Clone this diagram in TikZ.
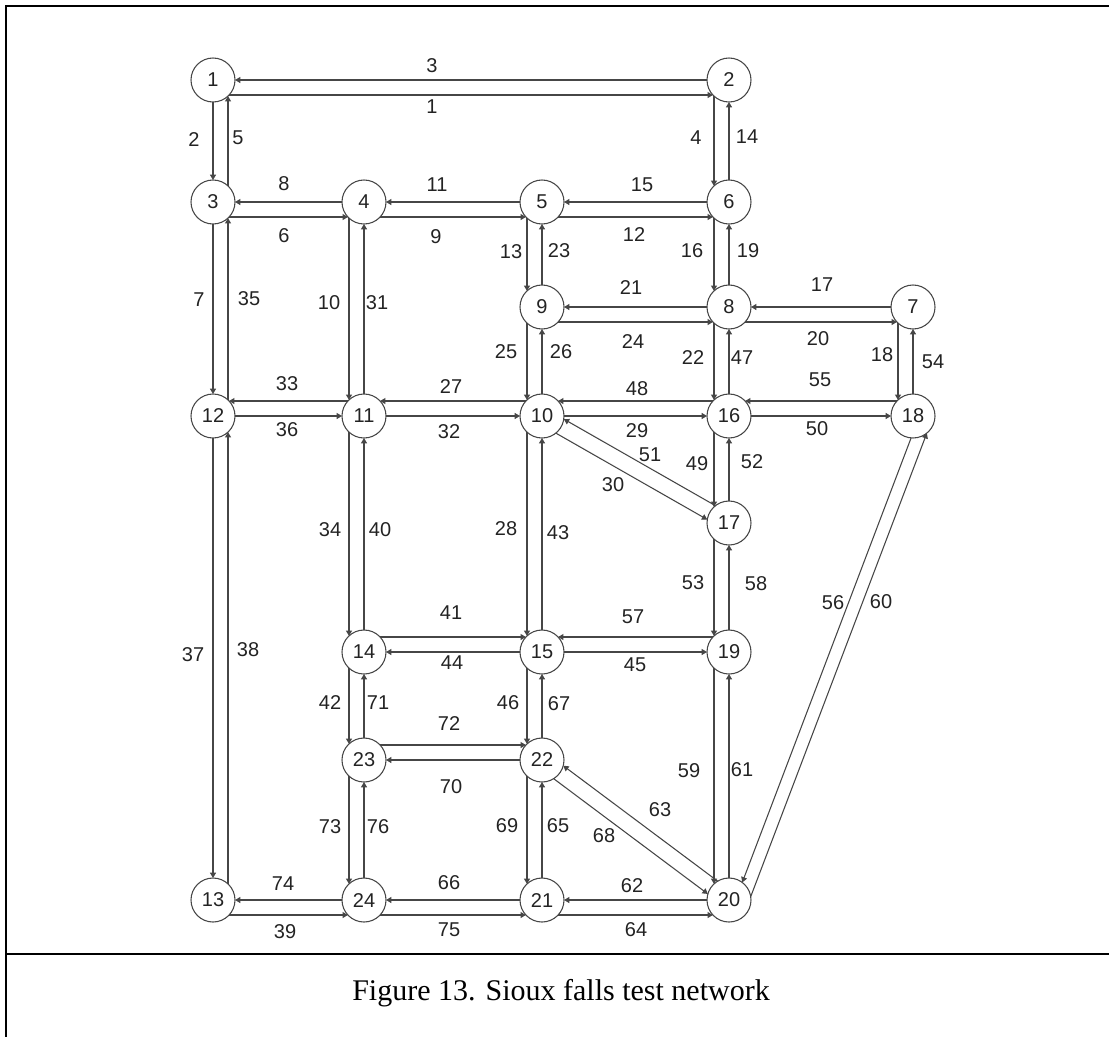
\documentclass[tikz,border=0pt]{standalone}
\usepackage{fontspec}
\setmainfont{Liberation Sans}
\newfontfamily\capfont{Liberation Serif}
\usetikzlibrary{arrows.meta}
\definecolor{linkc}{RGB}{70,70,70}
\definecolor{txtc}{RGB}{35,35,35}
\begin{document}
\begin{tikzpicture}[x=0.75pt,y=-0.75pt,
  nd/.style={circle,draw=linkc,line width=0.8pt,minimum size=33pt,inner sep=0pt,outer sep=0pt,
    font=\fontsize{15}{18}\selectfont,text=txtc},
  lk/.style={draw=linkc,line width=0.8pt,-{Triangle[length=4pt,width=4.5pt]}},
  lb/.style={font=\fontsize{15}{18}\selectfont,text=txtc,inner sep=0pt},
  frameline/.style={line width=1.6pt,black}]
\useasboundingbox (0,0) rectangle (1109,1036);
% frame and caption divider
\draw[frameline] (6,1040) -- (6,6) -- (1112,6);
\draw[frameline] (6,954) -- (1112,954);
\node[font=\capfont\fontsize{22.5}{27}\selectfont,anchor=base,inner sep=0pt] (cap) at (561,1000) {Figure 13. Sioux falls test network};
% nodes
\node[nd] (n1) at (213,80) {1};
\node[nd] (n2) at (729,80) {2};
\node[nd] (n3) at (213,202) {3};
\node[nd] (n4) at (364,202) {4};
\node[nd] (n5) at (542,202) {5};
\node[nd] (n6) at (729,202) {6};
\node[nd] (n7) at (913,307) {7};
\node[nd] (n8) at (729,307) {8};
\node[nd] (n9) at (542,307) {9};
\node[nd] (n10) at (542,416) {10};
\node[nd] (n11) at (364,416) {11};
\node[nd] (n12) at (213,416) {12};
\node[nd] (n13) at (213,900) {13};
\node[nd] (n14) at (364,652) {14};
\node[nd] (n15) at (542,652) {15};
\node[nd] (n16) at (729,416) {16};
\node[nd] (n17) at (729,523) {17};
\node[nd] (n18) at (913,416) {18};
\node[nd] (n19) at (729,652) {19};
\node[nd] (n20) at (729,900) {20};
\node[nd] (n21) at (542,900) {21};
\node[nd] (n22) at (542,760) {22};
\node[nd] (n23) at (364,760) {23};
\node[nd] (n24) at (364,900) {24};
% horizontal links, rows with centre + lower line
\draw[lk] (n2) -- (n1);            \draw[lk] (n1.-43) -- (n2.-137);
\draw[lk] (n4) -- (n3);            \draw[lk] (n3.-43) -- (n4.-137);
\draw[lk] (n5) -- (n4);            \draw[lk] (n4.-43) -- (n5.-137);
\draw[lk] (n6) -- (n5);            \draw[lk] (n5.-43) -- (n6.-137);
\draw[lk] (n8) -- (n9);            \draw[lk] (n9.-43) -- (n8.-137);
\draw[lk] (n7) -- (n8);            \draw[lk] (n8.-43) -- (n7.-137);
\draw[lk] (n24) -- (n13);          \draw[lk] (n13.-43) -- (n24.-137);
\draw[lk] (n21) -- (n24);          \draw[lk] (n24.-43) -- (n21.-137);
\draw[lk] (n20) -- (n21);          \draw[lk] (n21.-43) -- (n20.-137);
% horizontal links, rows with upper + centre line
\draw[lk] (n11.137) -- (n12.43);   \draw[lk] (n12) -- (n11);
\draw[lk] (n10.137) -- (n11.43);   \draw[lk] (n11) -- (n10);
\draw[lk] (n16.137) -- (n10.43);   \draw[lk] (n10) -- (n16);
\draw[lk] (n18.137) -- (n16.43);   \draw[lk] (n16) -- (n18);
\draw[lk] (n14.43) -- (n15.137);   \draw[lk] (n15) -- (n14);
\draw[lk] (n19.137) -- (n15.43);   \draw[lk] (n15) -- (n19);
\draw[lk] (n23.43) -- (n22.137);   \draw[lk] (n22) -- (n23);
% vertical links, first column (centre + right)
\draw[lk] (n1) -- (n3);            \draw[lk] (n3.47) -- (n1.-47);
\draw[lk] (n3) -- (n12);           \draw[lk] (n12.47) -- (n3.-47);
\draw[lk] (n12) -- (n13);          \draw[lk] (n13.47) -- (n12.-47);
% vertical links, other columns (left + centre)
\draw[lk] (n4.-133) -- (n11.133);  \draw[lk] (n11) -- (n4);
\draw[lk] (n11.-133) -- (n14.133); \draw[lk] (n14) -- (n11);
\draw[lk] (n14.-133) -- (n23.133); \draw[lk] (n23) -- (n14);
\draw[lk] (n23.-133) -- (n24.133); \draw[lk] (n24) -- (n23);
\draw[lk] (n5.-133) -- (n9.133);   \draw[lk] (n9) -- (n5);
\draw[lk] (n9.-133) -- (n10.133);  \draw[lk] (n10) -- (n9);
\draw[lk] (n10.-133) -- (n15.133); \draw[lk] (n15) -- (n10);
\draw[lk] (n15.-133) -- (n22.133); \draw[lk] (n22) -- (n15);
\draw[lk] (n22.-133) -- (n21.133); \draw[lk] (n21) -- (n22);
\draw[lk] (n2.-133) -- (n6.133);   \draw[lk] (n6) -- (n2);
\draw[lk] (n6.-133) -- (n8.133);   \draw[lk] (n8) -- (n6);
\draw[lk] (n8.-133) -- (n16.133);  \draw[lk] (n16) -- (n8);
\draw[lk] (n16.-133) -- (n17.133); \draw[lk] (n17) -- (n16);
\draw[lk] (n17.-133) -- (n19.133); \draw[lk] (n19) -- (n17);
\draw[lk] (n19.-133) -- (n20.133); \draw[lk] (n20) -- (n19);
\draw[lk] (n7.-133) -- (n18.133);  \draw[lk] (n18) -- (n7);
% diagonal links
\draw[lk] (n17.128.9) -- (n10.-8.5);
\draw[lk] (n10.-51.1) -- (n17.171.5);
\draw[lk] (n20.121.9) -- (n22.-15.5);
\draw[lk] (n22.-58.1) -- (n20.164.5);
\draw[lk] (n18.-95) -- (n20.53.4);
\draw[lk] (n20.9.5) -- (n18.-51.1);
% link labels
\foreach \t/\x/\y in {3/432/66, 1/432/107, 2/194/140, 5/238/138, 8/284/184, 6/284/236,
  11/437/185, 9/436/237, 7/199/300, 35/249/299, 10/329/303, 31/377/303,
  4/696/138, 14/747/137, 15/642/185, 12/634/235, 16/692/251, 19/748/251,
  13/511/252, 23/559/251, 21/631/288, 17/822/285, 20/818/339, 24/633/342,
  25/506/352, 26/561/352, 22/693/358, 47/742/358, 18/882/355, 54/933/362,
  55/820/380, 33/287/384, 27/451/387, 48/637/389, 36/287/430, 32/449/432,
  29/637/431, 50/817/429, 51/650/455, 49/697/464, 52/752/462, 30/613/485,
  34/330/530, 40/380/530, 28/506/529, 43/558/533, 53/693/583, 58/756/584,
  56/833/603, 60/881/602, 41/451/613, 57/633/617, 37/193/655, 38/248/650,
  44/452/663, 45/635/665, 42/330/703, 71/378/703, 46/508/703, 67/559/704,
  72/449/724, 59/689/771, 61/742/770, 70/451/787, 63/660/810, 73/330/827,
  76/378/827, 69/507/826, 65/558/826, 68/604/836, 74/283/884, 66/449/883,
  62/632/886, 39/285/932, 75/449/930, 64/636/930}
  \node[lb] (l\t) at (\x,\y) {\t};
\end{tikzpicture}
\end{document}
